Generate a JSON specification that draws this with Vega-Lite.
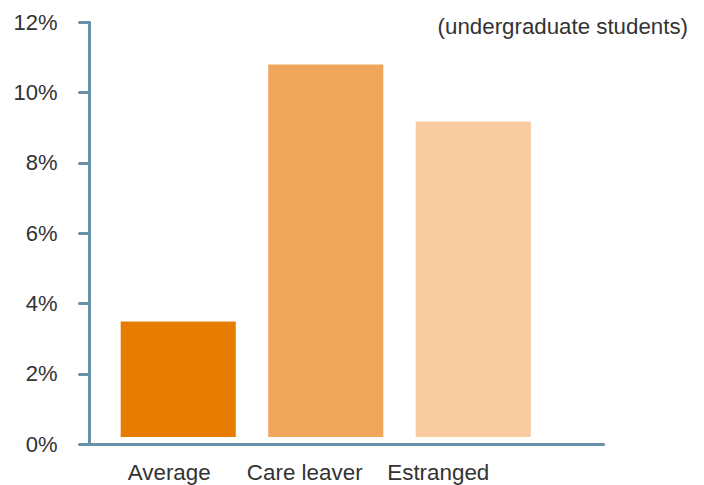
{
  "$schema": "https://vega.github.io/schema/vega-lite/v6.json",
  "width": 514,
  "height": 422,
  "autosize": "none",
  "padding": {"left": 89, "top": 22, "right": 101, "bottom": 41},
  "background": "white",
  "title": {
    "text": "(undergraduate students)",
    "anchor": "end",
    "frame": "group",
    "orient": "top",
    "baseline": "middle",
    "dx": 85,
    "dy": 38,
    "offset": 0,
    "font": "Liberation Sans",
    "fontSize": 22.3,
    "fontWeight": "normal",
    "color": "#333333"
  },
  "data": {
    "values": [
      {"group": "Average", "rate": 0.0348},
      {"group": "Care leaver", "rate": 0.1079},
      {"group": "Estranged", "rate": 0.0917}
    ]
  },
  "mark": {"type": "bar"},
  "encoding": {
    "x": {
      "field": "group",
      "type": "nominal",
      "sort": null,
      "scale": {"paddingInner": 0.22, "paddingOuter": 0.352, "align": 0.305},
      "axis": {
        "title": null,
        "labelAngle": 0,
        "ticks": false,
        "domainColor": "#6890a8",
        "domainWidth": 3,
        "domainCap": "round",
        "labelFont": "Liberation Sans",
        "labelFontSize": 22.4,
        "labelColor": "#333333",
        "labelPadding": 17,
        "labelOffset": {"expr": "datum.value == 'Average' ? -9 : datum.value == 'Care leaver' ? -21 : -35"}
      }
    },
    "y": {
      "field": "rate",
      "type": "quantitative",
      "scale": {"domain": [0, 0.12], "nice": false},
      "axis": {
        "title": null,
        "values": [0, 0.02, 0.04, 0.06, 0.08, 0.1, 0.12],
        "format": ".0%",
        "grid": false,
        "domainColor": "#6890a8",
        "domainWidth": 3,
        "domainCap": "round",
        "tickColor": "#6890a8",
        "tickWidth": 3,
        "tickSize": 10,
        "tickCap": "round",
        "labelFont": "Liberation Sans",
        "labelFontSize": 22,
        "labelColor": "#333333",
        "labelPadding": 22
      }
    },
    "y2": {"datum": 0.002},
    "color": {
      "field": "group",
      "type": "nominal",
      "scale": {"domain": ["Average", "Care leaver", "Estranged"], "range": ["#e67c00", "#f0a65a", "#f7caa0"]},
      "legend": null
    }
  },
  "config": {"view": {"stroke": null}}
}
